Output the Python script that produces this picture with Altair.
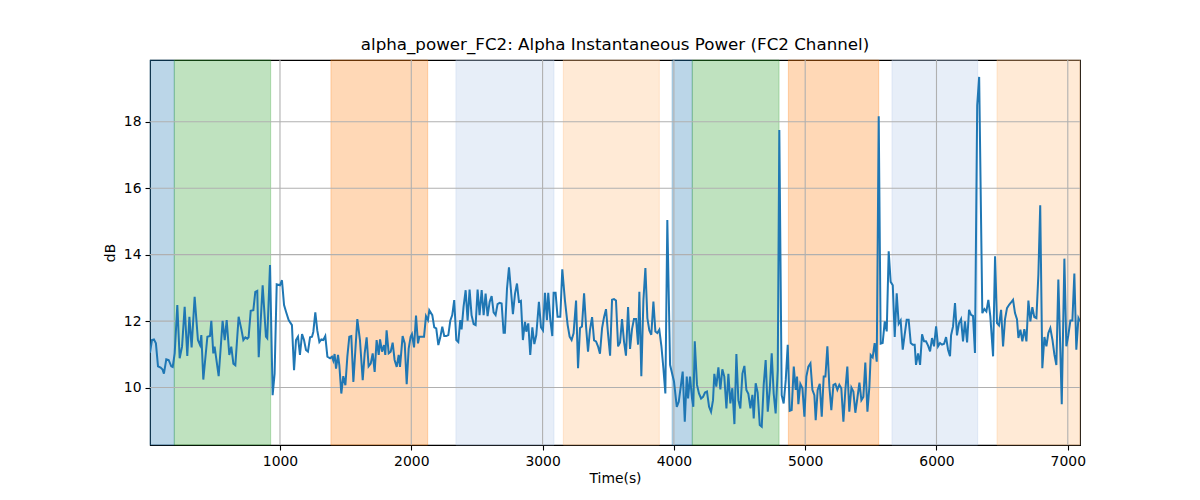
import altair as alt
import pandas as pd

# ---- data ----
times = [10, 25, 40, 55, 71, 91, 106, 116, 134, 152, 172, 183, 198, 218, 236, 254, 274, 294, 310, 327,
         350, 375, 391, 401, 416, 447, 467, 477, 492, 502, 533, 563, 579, 594, 614, 629, 645, 660, 685, 706,
         721, 736, 751, 761, 777, 797, 812, 827, 838, 868, 893, 903, 924, 944, 959, 975, 1000, 1015, 1031,
         1046, 1066, 1091, 1107, 1122, 1137, 1152, 1168, 1183, 1198, 1213, 1229, 1244, 1254, 1269, 1284, 1300,
         1315, 1330, 1345, 1361, 1381, 1396, 1406, 1416, 1427, 1442, 1452, 1467, 1482, 1498, 1513, 1528, 1543,
         1559, 1574, 1589, 1609, 1630, 1645, 1660, 1675, 1691, 1706, 1721, 1736, 1752, 1762, 1777, 1792, 1802,
         1812, 1828, 1843, 1858, 1873, 1889, 1904, 1914, 1934, 1950, 1965, 1980, 1995, 2005, 2021, 2036, 2051,
         2061, 2082, 2097, 2112, 2127, 2137,
         2160, 2175, 2190, 2206, 2221, 2236, 2251, 2266, 2282, 2297, 2312, 2327, 2343, 2358, 2373, 2383, 2398,
         2414, 2429, 2444, 2459, 2475, 2490, 2505, 2520, 2536, 2551, 2566, 2581, 2597, 2612, 2627, 2642, 2657,
         2673, 2688, 2703, 2713, 2729, 2744, 2759, 2774, 2790, 2805, 2820, 2835, 2850, 2866, 2876, 2891, 2906,
         2922, 2937, 2952, 2972, 2988, 3003, 3018, 3033, 3043, 3059, 3074, 3084, 3099, 3114, 3135, 3150, 3170,
         3191, 3206, 3221, 3236,
         3255, 3270, 3285, 3300, 3316, 3331, 3346, 3361, 3377, 3392, 3407, 3422, 3437, 3453, 3468, 3483, 3498,
         3514, 3529, 3544, 3559, 3575, 3590, 3605, 3620, 3635, 3651, 3666, 3681, 3696, 3712, 3727, 3737, 3752,
         3768, 3783, 3798, 3813, 3828, 3844, 3859, 3874, 3889, 3905, 3920, 3935, 3950, 3971, 3986, 4001, 4022,
         4037, 4052, 4067, 4083, 4098, 4108, 4123, 4138, 4148, 4159,
         4176, 4191, 4207, 4222, 4237, 4252, 4268, 4283, 4298, 4308, 4323, 4339, 4354, 4369, 4384, 4400, 4415,
         4430, 4445, 4461, 4476, 4491, 4506, 4522, 4537, 4552, 4567, 4583, 4598, 4608, 4623, 4638, 4654, 4669,
         4684, 4699, 4715, 4730, 4745, 4760, 4775, 4791, 4803, 4821, 4836, 4852, 4867, 4882, 4897, 4913, 4928,
         4938, 4948, 4963, 4979, 4994, 5009, 5024, 5040, 5055, 5070, 5080, 5095, 5111, 5126, 5141,
         5154, 5169, 5184, 5199, 5215, 5230, 5245, 5260, 5275, 5291, 5306, 5321, 5336, 5352, 5367, 5382, 5397,
         5413, 5428, 5443, 5458, 5474, 5489, 5499, 5514, 5529, 5545, 5560, 5575, 5590, 5606, 5621, 5636, 5651,
         5667, 5682, 5697, 5712, 5727, 5743, 5758, 5773, 5788, 5804, 5819, 5834, 5844, 5860, 5875, 5890, 5905,
         5920, 5936, 5951, 5966, 5981, 5997, 6012, 6027, 6042, 6058, 6073, 6088, 6103,
         6111, 6126, 6141, 6156, 6172, 6187, 6202, 6217, 6233, 6248, 6263, 6278, 6293, 6310, 6325, 6349, 6365,
         6380, 6395, 6410, 6431, 6446, 6461, 6476, 6492, 6507, 6522, 6537, 6553, 6568, 6583, 6598, 6613, 6624,
         6639, 6654, 6669, 6685, 6700, 6715, 6730, 6745, 6761, 6776, 6790, 6806, 6822, 6837, 6852, 6867, 6883,
         6898, 6913, 6928, 6943, 6954, 6974, 6989, 7004, 7020, 7035, 7050, 7065, 7081, 7093]

power_db = [11.05, 11.43, 11.45, 11.33, 10.64, 10.60, 10.54, 10.42, 10.85, 10.83, 10.64, 10.62, 11.03, 12.48,
            10.88, 11.23, 12.43, 10.95, 12.13, 11.21, 12.73, 11.43, 11.28, 11.58, 10.24, 11.53, 11.55, 12.01,
            11.03, 11.23, 10.34, 12.01, 11.43, 12.03, 10.98, 11.23, 10.72, 10.67, 12.13, 11.75, 11.43, 11.51,
            11.47, 11.51, 12.31, 12.33, 12.88, 12.91, 10.91, 13.08, 11.53, 11.48, 13.69, 9.77, 10.42, 13.11,
            13.08, 13.23, 12.48,
            12.28, 12.03, 11.88, 10.52, 11.43, 11.53, 10.98, 11.61, 11.43, 11.13, 11.08, 11.51, 11.53, 11.68,
            12.26, 11.72, 11.37, 11.45, 11.43, 11.55, 10.93, 10.88, 10.93, 10.81, 11.01, 10.57, 10.98, 10.67,
            9.82, 10.34, 10.07, 10.93, 11.53, 11.55, 10.17, 11.13, 12.06, 11.43, 10.22, 11.03, 11.51, 10.64,
            10.72, 11.03, 10.47, 11.43, 10.98, 11.45, 11.08, 11.28, 10.98, 11.72, 11.03, 11.08, 11.35, 10.83,
            10.62, 10.98, 10.62, 11.55, 11.33, 10.10, 11.17, 11.53, 11.61, 11.21, 12.17, 11.33, 11.53, 11.53,
            11.53, 12.15, 12.03, 12.33,
            12.18, 11.81, 11.78, 11.28, 11.51, 11.83, 11.55, 11.55, 11.58, 12.01, 12.18, 12.63, 11.43, 11.37,
            12.03, 11.75, 12.43, 12.93, 12.01, 12.95, 12.18, 11.91, 11.88, 12.95, 12.18, 12.93, 12.18, 12.83,
            12.15, 12.58, 12.75, 12.26, 12.18, 12.51, 12.55, 12.53, 11.65, 11.65, 12.98, 13.62, 12.93, 12.21,
            12.83, 13.13, 12.58, 12.61, 11.43, 11.98, 11.68, 11.93, 10.98, 11.81, 11.31, 11.58, 12.58, 11.81,
            11.72, 12.85, 12.03, 12.85, 12.03, 11.55, 12.85, 12.85, 12.13, 12.13, 13.56, 12.63, 11.88, 11.53,
            11.43, 11.63,
            12.62, 10.58, 11.79, 11.84, 12.84, 11.84, 11.08, 11.74, 12.12, 11.42, 11.39, 11.24, 11.02, 11.79,
            12.12, 12.36, 11.64, 10.96, 12.64, 12.66, 12.62, 11.24, 11.36, 12.06, 11.39, 10.96, 12.42, 11.16,
            11.76, 12.06, 12.06, 11.29, 12.88, 10.34, 12.64, 13.60, 12.09, 11.72, 11.59, 12.59, 11.69, 11.64,
            11.74, 11.24, 10.58, 9.82, 15.04, 10.68, 10.43, 10.18, 9.42, 9.57, 10.02, 10.48, 8.97, 10.33, 9.67,
            10.33, 9.67, 9.42, 11.39,
            10.08, 9.82, 9.67, 9.72, 9.85, 9.88, 9.42, 9.27, 9.62, 10.41, 10.03, 10.61, 9.94, 10.55, 10.33, 9.37,
            10.41, 9.52, 9.98, 8.90, 11.01, 9.62, 9.37, 10.42, 10.65, 9.93, 9.81, 9.37, 9.78, 9.07, 10.13, 9.85,
            8.87, 8.82, 10.08, 10.83, 9.27, 9.93, 11.03, 9.82, 9.22, 10.53, 17.75, 9.77, 9.52, 10.23, 11.29,
            9.30, 9.32, 10.63, 9.93, 10.33, 9.50, 10.11, 9.98, 9.12, 10.33, 10.63, 10.73, 9.93, 9.77, 9.02,
            9.93, 10.11, 9.12, 10.33,
            10.33, 11.24, 10.03, 9.32, 10.08, 10.11, 9.93, 10.08, 9.98, 8.97, 9.93, 10.63, 9.27, 10.00, 9.88,
            9.24, 9.67, 10.15, 9.62, 9.72, 10.75, 9.27, 10.03, 10.98, 10.91, 11.34, 10.78, 18.17, 11.32, 11.34,
            11.99, 11.69, 14.10, 13.18, 13.08, 11.52, 12.84, 11.92, 12.02, 11.14, 11.60, 12.04, 12.04, 11.34,
            11.29, 11.29, 10.68, 11.03, 10.68, 11.60, 11.39, 11.39, 11.26, 11.09, 11.49, 11.24, 11.84, 11.24,
            11.34, 11.29, 11.32, 11.52, 11.14, 10.94,
            11.57, 11.84, 12.54, 11.57, 11.94, 12.06, 11.39, 11.99, 11.36, 12.34, 12.19, 12.16, 11.04, 18.50,
            19.35, 12.24, 12.36, 12.29, 12.64, 12.14, 10.94, 13.95, 11.94, 11.87, 12.34, 11.24, 12.06, 12.39,
            12.49, 12.56, 12.64, 12.24, 12.06, 11.49, 11.74, 11.39, 11.76, 11.39, 12.62, 11.99, 12.42, 12.12,
            12.09, 13.40, 15.49, 10.58, 11.52, 11.24, 11.64, 11.79, 11.44, 10.99, 10.68, 13.25, 11.14, 9.50,
            13.88, 11.24, 11.57, 12.02, 12.02, 13.43, 11.14, 12.09, 11.99]

band_start = [10, 195, 1388, 2340, 3158, 3986, 4140, 4872, 5661, 6461]
band_end = [195, 929, 2125, 3087, 3889, 4140, 4801, 5560, 6314, 7093]
band_color = ["#1f77b4", "#2ca02c", "#ff7f0e", "#aec7e8", "#ffbb78",
              "#1f77b4", "#2ca02c", "#ff7f0e", "#aec7e8", "#ffbb78"]

x_ticks = [1000, 2000, 3000, 4000, 5000, 6000, 7000]
y_ticks = [10, 12, 14, 16, 18]

X_DOMAIN = [10, 7093]
Y_DOMAIN = [8.27, 19.86]

line_df = pd.DataFrame({"t": times, "v": power_db})
band_df = pd.DataFrame({"start": band_start, "end": band_end, "color": band_color})
xg_df = pd.DataFrame({"g": x_ticks})
yg_df = pd.DataFrame({"g": y_ticks})

FONT = "DejaVu Sans"
FS = 13.9

axis_common = dict(
    domain=False, grid=False, format="d",
    labelFont=FONT, labelFontSize=FS, labelColor="black",
    titleFont=FONT, titleFontSize=FS, titleColor="black", titleFontWeight="normal",
    tickColor="black", tickSize=5, tickWidth=1.1, labelPadding=4,
)

x_scale = alt.Scale(domain=X_DOMAIN, nice=False, zero=False)
y_scale = alt.Scale(domain=Y_DOMAIN, nice=False, zero=False)

bands = alt.Chart(band_df).mark_rect(fillOpacity=0.3, strokeOpacity=0.3, strokeWidth=1).encode(
    x=alt.X("start:Q", scale=x_scale,
            axis=alt.Axis(values=x_ticks, title="Time(s)", titlePadding=4, **axis_common)),
    x2="end:Q",
    fill=alt.Fill("color:N", scale=None),
    stroke=alt.Stroke("color:N", scale=None),
)

xgrid = alt.Chart(xg_df).mark_rule(color="#b0b0b0", strokeWidth=1.1).encode(
    x=alt.X("g:Q", scale=x_scale),
)
ygrid = alt.Chart(yg_df).mark_rule(color="#b0b0b0", strokeWidth=1.1).encode(
    y=alt.Y("g:Q", scale=y_scale),
)

line = alt.Chart(line_df).mark_line(color="#1f77b4", strokeWidth=2.0, clip=True).encode(
    x=alt.X("t:Q", scale=x_scale),
    y=alt.Y("v:Q", scale=y_scale,
            axis=alt.Axis(values=y_ticks, title="dB", titlePadding=6, **axis_common)),
)

chart = alt.layer(bands, xgrid, ygrid, line).properties(
    width=930,
    height=385,
    background="white",
    title=alt.TitleParams(
        "alpha_power_FC2: Alpha Instantaneous Power (FC2 Channel)",
        font=FONT, fontSize=16.7, fontWeight="normal", color="black",
        anchor="middle", offset=6,
    ),
    autosize=alt.AutoSizeParams(type="none"),
    padding={"left": 142, "top": 52, "right": 112, "bottom": 47},
).configure_view(
    stroke="black", strokeWidth=1.1
)

chart.save("out.html", embed_options={"renderer": "svg", "actions": False})
